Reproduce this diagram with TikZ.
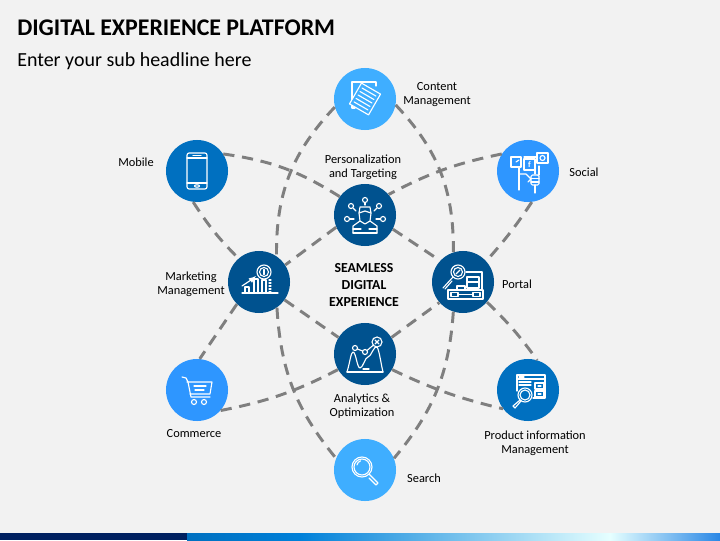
\documentclass[tikz,border=0pt]{standalone}
\usepackage{fontspec}
\setmainfont{Carlito}
\usepackage{xcolor}
\definecolor{pagegrey}{HTML}{F2F2F2}
\definecolor{darkblue}{HTML}{00528F}
\definecolor{midblue}{HTML}{0070C0}
\definecolor{brightblue}{HTML}{2E96FF}
\definecolor{lightblue}{HTML}{3FAEFF}
\definecolor{dashgrey}{HTML}{7F7F7F}
\definecolor{navy}{HTML}{002060}
\tikzset{vertex/.style = {shape=circle,minimum size=1.55cm,inner sep=0pt}}
\tikzset{dashline/.style = {draw=dashgrey,line width=2.1pt,dash pattern=on 8pt off 5.5pt}}
\tikzset{lbl/.style = {align=center,inner sep=0pt,font=\fontsize{8.8}{10}\selectfont,text=black}}
\tikzset{icon/.style = {draw=white,line width=0.8pt,line cap=round,line join=round}}
% icons
\tikzset{iconcontent/.pic = {
    \draw[icon] (-10,-9) -- (-13,-9) -- (-13,17) -- (11,17) -- (11,13);
    \draw[icon,fill=lightblue,rotate=-30] (-11,-12) rectangle (11,12);
    \foreach \y in {-8,-4,0,4,8} {\draw[icon,rotate=-30] (-8,\y) -- (8,\y);}
}}
\tikzset{iconmobile/.pic = {
    \draw[icon,rounded corners=1.5pt] (-10,-18) rectangle (10,18);
    \draw[icon] (-10,13) -- (10,13);
    \draw[icon] (-10,-12) -- (10,-12);
    \draw[icon] (-4,15.5) -- (4,15.5);
    \draw[icon] (0,-15) ellipse (2.5 and 1.2);
}}
\tikzset{iconperson/.pic = {
    \draw[icon] (-5,8) -- (5,8) -- (6,2) -- (5,-6) -- (0,-9) -- (-5,-6) -- (-6,2) -- cycle;
    \draw[icon] (-6,2) -- (0,4) -- (6,2);
    \draw[icon] (-12,-18) -- (-12,-11) -- (-5,-6);
    \draw[icon] (12,-18) -- (12,-11) -- (5,-6);
    \draw[icon] (-12,-18) -- (12,-18);
    \draw[icon] (-12,-14) -- (-4,-14);
    \draw[icon] (4,-14) -- (12,-14);
    \draw[icon] (0,15) circle (2.5);
    \draw[icon] (0,12.5) -- (0,10);
    \draw[icon] (-14,9) circle (2.5);
    \draw[icon] (-12,7) -- (-9,4);
    \draw[icon] (14,9) circle (2.5);
    \draw[icon] (12,7) -- (9,4);
    \draw[icon] (-18,-4) circle (2.5);
    \draw[icon] (-15,-4) -- (-11,-4);
    \draw[icon] (18,-4) circle (2.5);
    \draw[icon] (15,-4) -- (11,-4);
}}
\tikzset{iconsocial/.pic = {
    \draw[icon] (-17,4) rectangle (-7,14);
    \draw[icon] (-4,1) rectangle (7,12);
    \draw[icon] (9,8) rectangle (20,18);
    \draw[icon] (14.5,13) circle (2.5);
    \node[inner sep=0pt,text=white,font=\fontsize{6}{6}\selectfont\bfseries] (fglyph) at (1.5,6.5) {f};
    \draw[icon] (-12,9) -- (-9,11);
    \draw[icon] (-9,3) -- (-9,-19);
    \draw[icon] (-9,-3) -- (-2,-3) -- (3,-8) -- (0,-11);
    \draw[icon] (-4,14) -- (8,14);
    \draw[icon] (7,1) -- (7,-3);
    \draw[icon,rounded corners=1pt] (3,-4) rectangle (11,-14);
    \draw[icon] (3,-7.5) -- (11,-7.5);
    \draw[icon] (3,-11) -- (11,-11);
    \draw[icon] (7,-14) -- (7,-22);
    \draw[icon] (11,-4) -- (11,5);
}}
\tikzset{iconmarketing/.pic = {
    \draw[icon] (5,10) circle (7);
    \draw[icon] (5,10) circle (4.5);
    \draw[icon] (5,7.5) -- (5,12.5);
    \draw[icon] (-17,-11) -- (19,-11);
    \draw[icon] (-14,-11) rectangle (-10,-5);
    \draw[icon] (-5,-11) rectangle (-1,3);
    \draw[icon] (3,-11) rectangle (7,2);
    \foreach \y in {-10,-7,-4,-1,2} {\draw[icon] (10,\y) -- (12,\y);}
    \draw[icon,-latex] (-17,-4) -- (-8,2) -- (-3,6);
}}
\tikzset{iconportal/.pic = {
    \draw[icon] (-5,10) circle (7);
    \draw[icon] (-5,10) circle (4.5);
    \draw[icon] (-7,8) -- (-3,12);
    \draw[icon] (-10,5) -- (-20,-6);
    \draw[icon] (-18,-7) -- (-11,1);
    \draw[icon] (-15,-8) rectangle (20,-17);
    \draw[icon] (-12,-10.5) rectangle (-5,-14.5);
    \draw[icon] (10,-10.5) rectangle (17,-14.5);
    \draw[icon] (-5,-12.5) -- (10,-12.5);
    \draw[icon] (4,5) rectangle (16,-6);
    \draw[icon] (4,0) -- (16,0);
    \draw[icon] (-6,-4) rectangle (2,-8);
    \draw[icon] (19,10) -- (19,-8);
    \draw[icon] (3,10) -- (19,10);
}}
\tikzset{iconanalytics/.pic = {
    \draw[icon] (-18,-18) -- (18,-18);
    \draw[icon] (-18,-18) .. controls (-15,-8) and (-14,2) .. (-12,2) .. controls (-9,2) and (-8,-14) .. (-5,-14) .. controls (-2,-14) and (0,-3) .. (3,-3) .. controls (6,-3) and (9,9) .. (12,7) .. controls (14,5) and (16,-10) .. (18,-18);
    \draw[icon] (-10,6) circle (2.5);
    \draw[icon] (0,2) circle (2.5);
    \draw[icon] (12,12) circle (5);
    \draw[icon] (-7.6,5) -- (-2.4,3);
    \draw[icon] (2,3.5) -- (8.5,9);
    \draw[icon] (10,14) -- (14,10);
    \draw[icon] (10,10) -- (14,14);
    \draw[icon] (-2,-15) -- (4,-15);
}}
\tikzset{iconcommerce/.pic = {
    \draw[icon] (-15,13) -- (-11,12) -- (-9,8) -- (-6,-7) -- (13,-7);
    \draw[icon] (-10,8) -- (15,8) -- (13,-4) -- (-7,-4);
    \draw[icon] (-3,4) -- (9,4);
    \draw[icon] (-2,0) -- (7,0);
    \draw[icon] (-3,-12) circle (2.5);
    \draw[icon] (7,-12) circle (2.5);
}}
\tikzset{iconproduct/.pic = {
    \draw[icon] (-11,-1) -- (-11,15) -- (17,15) -- (17,-8) -- (5,-8);
    \draw[icon] (-11,11) -- (17,11);
    \draw[icon] (-9,13) -- (-4,13);
    \draw[icon] (-9,8) -- (3,8);
    \draw[icon] (-9,5) -- (3,5);
    \draw[icon] (7,7) rectangle (16,1);
    \draw[icon] (7,-1) rectangle (16,-7);
    \draw[icon] (10,4) -- (13,4);
    \draw[icon] (10,-4) -- (13,-4);
    \draw[icon] (-3,-5) circle (7);
    \draw[icon] (-3,-5) circle (5);
    \draw[icon] (-8,-10) -- (-15,-16) -- (-13,-18) -- (-7,-11);
}}
\tikzset{iconsearch/.pic = {
    \draw[icon] (-3,3) circle (10);
    \draw[icon] (-3,3) circle (8);
    \draw[icon] (4,-4) -- (6,-6);
    \draw[icon] (6,-6) -- (13,-13) -- (11,-15) -- (4,-8);
    \draw[icon] (-8,5) arc (170:110:5.5);
}}

\begin{document}
\begin{tikzpicture}[x=0.025cm,y=0.025cm]
    \useasboundingbox (0,0) rectangle (720,540);
    \fill[pagegrey] (0,0) rectangle (720,540);

    % bottom bar
    \fill[navy] (0,0) rectangle (187,7);
    \shade[left color=midblue,right color=cyan!60!blue!40!midblue] (187,0) rectangle (300,7);
    \shade[left color=cyan!60!blue!40!midblue,right color=white!90!cyan] (300,0) rectangle (610,7);
    \shade[left color=white!90!cyan,right color=brightblue!90!black] (610,0) rectangle (720,7);

    \node[anchor=west,inner sep=0pt,font=\fontsize{17}{20}\selectfont\bfseries] (title) at (17,512) {DIGITAL EXPERIENCE PLATFORM};
    \node[anchor=west,inner sep=0pt,font=\fontsize{14.2}{16}\selectfont] (subtitle) at (17,479) {Enter your sub headline here};

    \node[vertex,fill=lightblue] (content) at (365,441) {};
    \node[vertex,fill=midblue] (mobile) at (197,369) {};
    \node[vertex,fill=darkblue] (person) at (365,325) {};
    \node[vertex,fill=brightblue] (social) at (528,369) {};
    \node[vertex,fill=darkblue] (marketing) at (259,258) {};
    \node[vertex,fill=darkblue] (portal) at (463,258) {};
    \node[vertex,fill=darkblue] (analytics) at (365,186) {};
    \node[vertex,fill=brightblue] (commerce) at (197,150) {};
    \node[vertex,fill=midblue] (product) at (528,150) {};
    \node[vertex,fill=lightblue] (search) at (365,70) {};

    \draw[dashline] (mobile.33) to[bend left=12] (person.144);
    \draw[dashline] (social.147) to[bend right=8] (person.41);
    \draw[dashline] (person.-27) -- (portal.137);
    \draw[dashline] (portal.-40) to[bend left=5] (product.73);
    \draw[dashline] (mobile.-97) to[bend right=6] (marketing.131);
    \draw[dashline] (person.203) -- (marketing.33);
    \draw[dashline] (marketing.225) -- (commerce.85);
    \draw[dashline] (commerce.-41) to[bend right=8] (analytics.210);
    \draw[dashline] (analytics.-30) to[bend right=6] (product.217);
    \draw[dashline] (marketing.-35) -- (analytics.148);
    \draw[dashline] (analytics.32) -- (portal.221);
    \draw[dashline] (social.-83) to[bend left=4] (portal.42);
    \draw[dashline] (content.195) to[bend right=22] (marketing.56);
    \draw[dashline] (marketing.-55) to[bend right=18] (search.158);
    \draw[dashline] (content.-11) to[bend left=22] (portal.108);
    \draw[dashline] (portal.-108) to[bend left=18] (search.22);

    \pic at (content) {iconcontent};
    \pic at (mobile) {iconmobile};
    \pic at (person) {iconperson};
    \pic at (social) {iconsocial};
    \pic at (marketing) {iconmarketing};
    \pic at (portal) {iconportal};
    \pic at (analytics) {iconanalytics};
    \pic at (commerce) {iconcommerce};
    \pic at (product) {iconproduct};
    \pic at (search) {iconsearch};

    \node[lbl] (lblcontent) at (437,445) {Content\\Management};
    \node[lbl] (lblmobile) at (136,378) {Mobile};
    \node[lbl] (lblperson) at (363,373) {Personalization\\and Targeting};
    \node[lbl] (lblsocial) at (584,368) {Social};
    \node[lbl] (lblmarketing) at (191,256) {Marketing\\Management};
    \node[lbl] (lblportal) at (517,256) {Portal};
    \node[lbl,font=\fontsize{9.8}{12}\selectfont\bfseries] (lblcenter) at (364,255) {SEAMLESS\\DIGITAL\\EXPERIENCE};
    \node[lbl] (lblanalytics) at (362,134) {Analytics \&\\Optimization};
    \node[lbl] (lblcommerce) at (194,106) {Commerce};
    \node[lbl] (lblproduct) at (535,97) {Product information\\Management};
    \node[lbl] (lblsearch) at (424,62) {Search};
\end{tikzpicture}
\end{document}
